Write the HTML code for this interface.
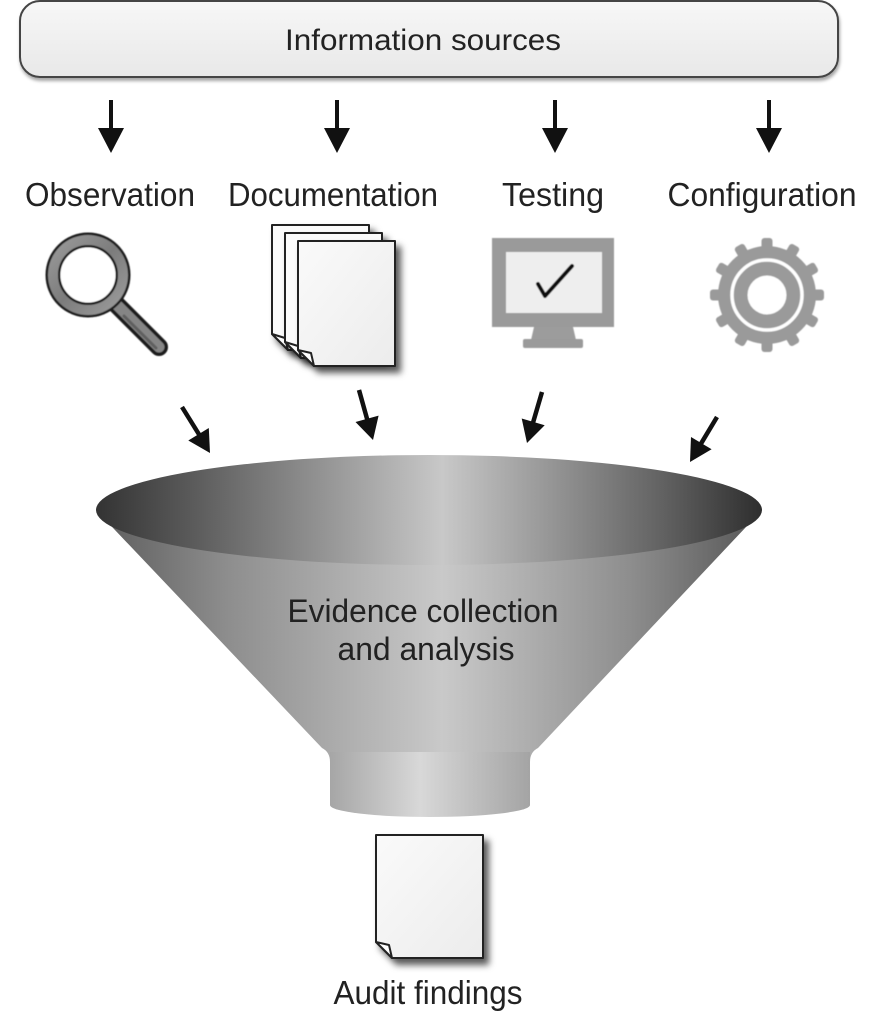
<!DOCTYPE html>
<html>
<head>
<meta charset="utf-8">
<style>
  html, body { margin:0; padding:0; background:#ffffff; }
  body { width:887px; height:1024px; overflow:hidden; }
  svg { display:block; }
  text { font-family: "Liberation Sans", Arial, sans-serif; fill:#222; }
</style>
</head>
<body>
<svg width="887" height="1024" viewBox="0 0 887 1024" xmlns="http://www.w3.org/2000/svg">
  <defs>
    <linearGradient id="boxg" x1="0" y1="0" x2="0" y2="1">
      <stop offset="0" stop-color="#f7f7f7"/>
      <stop offset="1" stop-color="#e8e8e8"/>
    </linearGradient>
    <linearGradient id="faceg" gradientUnits="userSpaceOnUse" x1="96" y1="0" x2="762" y2="0">
      <stop offset="0" stop-color="#333"/>
      <stop offset="0.15" stop-color="#5c5c5c"/>
      <stop offset="0.52" stop-color="#c8c8c8"/>
      <stop offset="0.85" stop-color="#626262"/>
      <stop offset="1" stop-color="#2e2e2e"/>
    </linearGradient>
    <linearGradient id="coneg" gradientUnits="userSpaceOnUse" x1="96" y1="0" x2="762" y2="0">
      <stop offset="0" stop-color="#5c5c5c"/>
      <stop offset="0.2" stop-color="#8e8e8e"/>
      <stop offset="0.52" stop-color="#c9c9c9"/>
      <stop offset="0.8" stop-color="#8e8e8e"/>
      <stop offset="1" stop-color="#565656"/>
    </linearGradient>
    <linearGradient id="spoutg" gradientUnits="userSpaceOnUse" x1="330" y1="0" x2="530" y2="0">
      <stop offset="0" stop-color="#a6a6a6"/>
      <stop offset="0.45" stop-color="#d8d8d8"/>
      <stop offset="1" stop-color="#a4a4a4"/>
    </linearGradient>
    <linearGradient id="pageg" x1="0" y1="0" x2="1" y2="1">
      <stop offset="0" stop-color="#fafafa"/>
      <stop offset="1" stop-color="#ececec"/>
    </linearGradient>
    <linearGradient id="ringg" x1="0" y1="0" x2="1" y2="1">
      <stop offset="0" stop-color="#9a9a9a"/>
      <stop offset="0.5" stop-color="#7c7c7c"/>
      <stop offset="1" stop-color="#9c9c9c"/>
    </linearGradient>
    <filter id="sh" x="-20%" y="-20%" width="150%" height="150%">
      <feDropShadow dx="5" dy="6" stdDeviation="3.5" flood-color="#000" flood-opacity="0.65"/>
    </filter>
    <filter id="shbox" x="-5%" y="-20%" width="110%" height="150%">
      <feDropShadow dx="1" dy="3" stdDeviation="1.5" flood-color="#000" flood-opacity="0.35"/>
    </filter>
    <filter id="soft" x="-10%" y="-10%" width="120%" height="120%">
      <feGaussianBlur stdDeviation="0.6"/>
    </filter>
    <filter id="faceblur" x="-5%" y="-20%" width="110%" height="140%">
      <feGaussianBlur stdDeviation="1.5"/>
    </filter>
  </defs>

  <!-- Top box -->
  <rect x="20" y="1" width="818" height="76" rx="20" ry="20" fill="url(#boxg)" stroke="#444" stroke-width="2" filter="url(#shbox)"/>
  <text x="423" y="50" font-size="30" text-anchor="middle" textLength="276" lengthAdjust="spacingAndGlyphs">Information sources</text>

  <!-- Down arrows -->
  <g fill="#111" stroke="#111">
    <line x1="111" y1="100" x2="111" y2="132" stroke-width="4"/>
    <polygon points="98,128 124,128 111,153" stroke="none"/>
    <line x1="337" y1="100" x2="337" y2="132" stroke-width="4"/>
    <polygon points="324,128 350,128 337,153" stroke="none"/>
    <line x1="555" y1="100" x2="555" y2="132" stroke-width="4"/>
    <polygon points="542,128 568,128 555,153" stroke="none"/>
    <line x1="769" y1="100" x2="769" y2="132" stroke-width="4"/>
    <polygon points="756,128 782,128 769,153" stroke="none"/>
  </g>

  <!-- Labels -->
  <text x="110" y="206" font-size="33" text-anchor="middle" textLength="170" lengthAdjust="spacingAndGlyphs">Observation</text>
  <text x="333" y="206" font-size="33" text-anchor="middle" textLength="210" lengthAdjust="spacingAndGlyphs">Documentation</text>
  <text x="553" y="206" font-size="33" text-anchor="middle" textLength="102" lengthAdjust="spacingAndGlyphs">Testing</text>
  <text x="762" y="206" font-size="33" text-anchor="middle" textLength="189" lengthAdjust="spacingAndGlyphs">Configuration</text>

  <!-- Magnifier -->
  <g filter="url(#soft)">
    <line x1="114" y1="302" x2="159" y2="347" stroke="#1e1e1e" stroke-width="18" stroke-linecap="round"/>
    <line x1="116" y1="304" x2="159" y2="347" stroke="#858585" stroke-width="11" stroke-linecap="round"/>
    <line x1="124" y1="316" x2="156" y2="348" stroke="#5e5e5e" stroke-width="3" stroke-linecap="round"/>
    <circle cx="88" cy="275" r="35" fill="none" stroke="#1e1e1e" stroke-width="15"/>
    <circle cx="88" cy="275" r="35" fill="none" stroke="url(#ringg)" stroke-width="10"/>
    <circle cx="88" cy="275" r="27.5" fill="#ffffff"/>
  </g>

  <!-- Documents stack -->
  <g stroke="#222" stroke-width="2" stroke-linejoin="round">
    <g filter="url(#sh)">
      <path d="M272,225 H369 V350 H288 L272,334 Z" fill="#fbfbfb"/>
      <path d="M272,334 L288,350 L285,338 Z" fill="#fff"/>
    </g>
    <g filter="url(#sh)">
      <path d="M285,233 H382 V358 H301 L285,342 Z" fill="#fbfbfb"/>
      <path d="M285,342 L301,358 L298,346 Z" fill="#fff"/>
    </g>
    <g filter="url(#sh)">
      <path d="M298,241 H395 V366 H314 L298,350 Z" fill="url(#pageg)"/>
      <path d="M298,350 L314,366 L311,353 Z" fill="#fff"/>
    </g>
  </g>

  <!-- Monitor -->
  <g filter="url(#soft)">
    <rect x="492" y="238" width="122" height="89" fill="#9a9a9a"/>
    <rect x="506" y="252" width="96" height="61" fill="#eeeeee"/>
    <path d="M534,327 H573 L576,340 H531 Z" fill="#9c9c9c"/>
    <rect x="523" y="339" width="60" height="9" rx="2" fill="#9a9a9a"/>
    <path d="M538,284 L545,296 L572,266" fill="none" stroke="#111" stroke-width="4" stroke-linecap="round" stroke-linejoin="round"/>
  </g>

  <!-- Gear -->
  <g transform="translate(767,295)" fill="#9a9a9a" filter="url(#soft)">
    <circle r="49"/>
    <g>
      <rect x="-5.5" y="-57" width="11" height="14" rx="3"/>
      <rect x="-5.5" y="-57" width="11" height="14" rx="3" transform="rotate(30)"/>
      <rect x="-5.5" y="-57" width="11" height="14" rx="3" transform="rotate(60)"/>
      <rect x="-5.5" y="-57" width="11" height="14" rx="3" transform="rotate(90)"/>
      <rect x="-5.5" y="-57" width="11" height="14" rx="3" transform="rotate(120)"/>
      <rect x="-5.5" y="-57" width="11" height="14" rx="3" transform="rotate(150)"/>
      <rect x="-5.5" y="-57" width="11" height="14" rx="3" transform="rotate(180)"/>
      <rect x="-5.5" y="-57" width="11" height="14" rx="3" transform="rotate(210)"/>
      <rect x="-5.5" y="-57" width="11" height="14" rx="3" transform="rotate(240)"/>
      <rect x="-5.5" y="-57" width="11" height="14" rx="3" transform="rotate(270)"/>
      <rect x="-5.5" y="-57" width="11" height="14" rx="3" transform="rotate(300)"/>
      <rect x="-5.5" y="-57" width="11" height="14" rx="3" transform="rotate(330)"/>
    </g>
    <circle r="35" fill="none" stroke="#ffffff" stroke-width="3.5"/>
    <circle r="19.5" fill="#ffffff"/>
  </g>

  <!-- Diagonal arrows -->
  <g fill="#111" stroke="#111">
    <line x1="182" y1="407" x2="200" y2="436" stroke-width="4.5"/>
    <polygon points="188.3,440.5 208.8,428 210,453" stroke="none"/>
    <line x1="359" y1="390" x2="367.6" y2="420.8" stroke-width="4.5"/>
    <polygon points="355.5,422 378.6,415.6 373,440" stroke="none"/>
    <line x1="542" y1="392" x2="532.7" y2="423.8" stroke-width="4.5"/>
    <polygon points="521.7,418.5 544.7,425.3 527,443" stroke="none"/>
    <line x1="717" y1="417" x2="700.3" y2="444.8" stroke-width="4.5"/>
    <polygon points="691,437 711.6,449.3 690,462" stroke="none"/>
  </g>

  <!-- Funnel -->
  <path d="M96,510 L322,748 Q330,752 330,762 L530,762 Q530,752 538,748 L762,510 Z" fill="url(#coneg)"/>
  <path d="M330,752 L330,805 A100,12 0 0 0 530,805 L530,752 Z" fill="url(#spoutg)"/>
  <ellipse cx="429" cy="510" rx="333" ry="55" fill="url(#faceg)"/>

  <text x="423" y="622" font-size="32" text-anchor="middle" textLength="271" lengthAdjust="spacingAndGlyphs">Evidence collection</text>
  <text x="426" y="660" font-size="32" text-anchor="middle" textLength="177" lengthAdjust="spacingAndGlyphs">and analysis</text>

  <!-- Audit findings doc -->
  <g stroke="#222" stroke-width="2" stroke-linejoin="round" filter="url(#sh)">
    <path d="M376,835 H483 V958 H392 L376,942 Z" fill="url(#pageg)"/>
    <path d="M376,942 L392,958 L389,945 Z" fill="#fff"/>
  </g>
  <text x="428" y="1004" font-size="33" text-anchor="middle" textLength="189" lengthAdjust="spacingAndGlyphs">Audit findings</text>
</svg>
</body>
</html>
